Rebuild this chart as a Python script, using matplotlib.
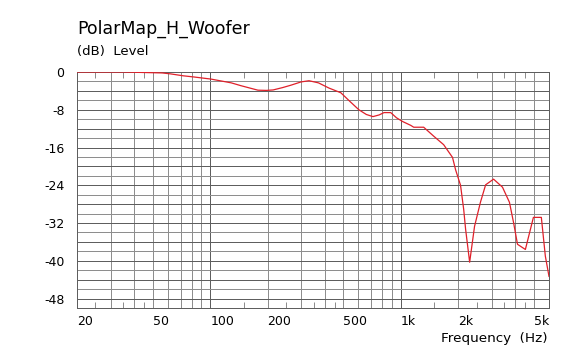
import matplotlib
matplotlib.use('Agg')
import matplotlib.pyplot as plt
from matplotlib.ticker import FixedLocator, NullFormatter

# Frequency response (Hz, dB)
freq = [20, 35, 56, 62, 72, 82, 92, 101, 129, 145, 178, 197, 214, 240, 265,
        300, 330, 370, 420, 485, 540, 603, 660, 715, 770, 817, 886, 950,
        1024, 1128, 1170, 1320, 1490, 1680, 1870, 1940, 2060, 2140, 2190,
        2300, 2440, 2620, 2790, 3070, 3420, 3720, 3910, 4100, 4510, 4970,
        5470, 5740, 6000]
level = [0, 0, -0.2, -0.4, -0.8, -1.05, -1.3, -1.5, -2.3, -2.9, -3.85, -3.9,
         -3.8, -3.3, -2.8, -2.1, -1.85, -2.3, -3.4, -4.4, -6.2, -8.0, -9.0,
         -9.45, -9.1, -8.6, -8.6, -9.7, -10.5, -11.3, -11.7, -11.7, -13.6,
         -15.4, -18.1, -20.7, -24.0, -29.1, -33.3, -40.3, -32.7, -27.6,
         -23.9, -22.7, -24.4, -27.6, -31.9, -36.5, -37.6, -30.8, -30.8,
         -39.0, -43.3]

xtick_vals = [20, 50, 100, 200, 500, 1000, 2000, 5000]
xtick_labels = ['20', '50', '100', '200', '500', '1k', '2k', '5k']
ytick_vals = [0, -8, -16, -24, -32, -40, -48]
ytick_labels = ['0', '-8', '-16', '-24', '-32', '-40', '-48']

W, H = 578, 351
fig = plt.figure(figsize=(W / 100, H / 100), dpi=100)
ax = fig.add_axes([77 / W, 1 - 308 / H, (549 - 77) / W, (308 - 72) / H])

ax.set_xscale('log')
ax.set_xlim(20, 6000)
ax.set_ylim(-50, 0)

# grid, 1 px lines
light = '#8e8e8e'
dark = '#5e5e5e'
for d in [10, 100, 1000]:
    for m in range(2, 10):
        f = m * d
        if 20 < f < 6000:
            ax.axvline(f, color=light, lw=0.72, zorder=1)
for f in [100, 1000]:
    ax.axvline(f, color=dark, lw=0.72, zorder=1)
for v in range(-2, -50, -2):
    ax.axhline(v, color=dark if v % 4 == 0 else light, lw=0.72, zorder=1)

ax.plot(freq, level, color='#e0202a', lw=0.9, zorder=3)

ax.set_xticks(xtick_vals)
ax.set_xticklabels(xtick_labels)
ax.xaxis.set_minor_locator(FixedLocator([25, 35, 45, 150, 250, 350, 450,
                                         1500, 2500, 3500, 4500]))
ax.xaxis.set_minor_formatter(NullFormatter())
ax.set_yticks(ytick_vals)
ax.set_yticklabels(ytick_labels)
ax.tick_params(axis='x', which='major', length=0, pad=5, labelsize=9)
ax.tick_params(axis='x', which='minor', direction='in', length=4, width=0.72,
               color=light, top=True, bottom=True)
ax.tick_params(axis='y', length=0, pad=9, labelsize=9)
for lbl in ax.get_xticklabels():
    lbl.set_horizontalalignment('left')

for s in ax.spines.values():
    s.set_color(dark)
    s.set_linewidth(0.72)

fig.text(77 / W, 1 - 34 / H, 'PolarMap_H_Woofer', fontsize=12.5, va='baseline')
fig.text(77 / W, 1 - 55 / H, '(dB)  Level', fontsize=9.5, va='baseline')
fig.text(548 / W, 1 - 342 / H, 'Frequency  (Hz)', fontsize=9.7,
         ha='right', va='baseline')

fig.savefig('out.png', dpi=100)
